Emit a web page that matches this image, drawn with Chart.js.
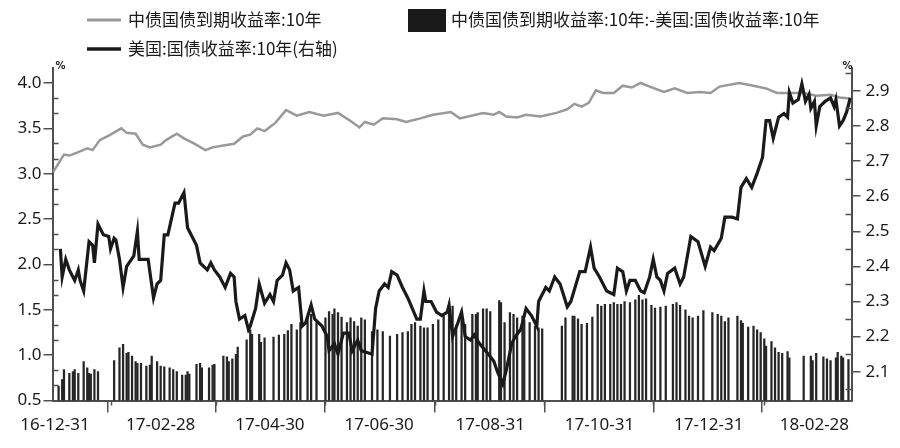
<!DOCTYPE html>
<html><head><meta charset="utf-8">
<script src="https://cdn.jsdelivr.net/npm/chart.js@4/dist/chart.umd.min.js"></script>
<style>html,body{margin:0;padding:0;background:#fff}#wrap{width:900px;height:448px;position:relative}</style>
</head><body><div id="wrap"><canvas id="c" width="900" height="448"></canvas></div>
<script>
// ---------- data ----------
const seriesNames = ['中债国债到期收益率:10年', '中债国债到期收益率:10年:-美国:国债收益率:10年', '美国:国债收益率:10年(右轴)'];

const cnDates = ['16-12-30','17-01-05','17-01-08','17-01-12','17-01-18','17-01-21','17-01-25','17-01-31','17-02-06','17-02-09','17-02-14','17-02-18','17-02-22','17-02-28','17-03-03','17-03-09','17-03-13','17-03-18','17-03-25','17-03-29','17-04-04','17-04-10','17-04-15','17-04-19','17-04-23','17-04-27','17-05-03','17-05-09','17-05-15','17-05-22','17-05-30','17-06-07','17-06-14','17-06-19','17-06-22','17-06-27','17-07-02','17-07-10','17-07-15','17-07-23','17-07-30','17-08-09','17-08-14','17-08-27','17-09-02','17-09-05','17-09-09','17-09-15','17-09-20','17-09-28','17-10-07','17-10-13','17-10-17','17-10-21','17-10-25','17-10-29','17-11-02','17-11-08','17-11-13','17-11-18','17-11-23','17-11-28','17-12-06','17-12-12','17-12-19','17-12-26','18-01-01','18-01-06','18-01-17','18-01-25','18-02-01','18-02-07','18-02-14','18-02-22','18-03-01','18-03-09','18-03-14','18-03-20'];
const cnYield = [3.02,3.21,3.20,3.23,3.28,3.26,3.37,3.43,3.50,3.45,3.44,3.32,3.29,3.32,3.37,3.44,3.39,3.34,3.26,3.29,3.31,3.33,3.41,3.43,3.50,3.47,3.56,3.70,3.64,3.68,3.64,3.67,3.58,3.51,3.57,3.54,3.61,3.60,3.57,3.61,3.65,3.68,3.61,3.67,3.65,3.68,3.63,3.62,3.65,3.63,3.67,3.71,3.77,3.74,3.78,3.92,3.89,3.89,3.97,3.95,4.00,3.96,3.90,3.94,3.89,3.90,3.89,3.96,4.00,3.97,3.94,3.89,3.89,3.89,3.86,3.87,3.84,3.83];

const usDates = ['17-01-03','17-01-04','17-01-06','17-01-08','17-01-09','17-01-11','17-01-13','17-01-14','17-01-16','17-01-19','17-01-21','17-01-22','17-01-24','17-01-27','17-01-30','17-01-31','17-02-02','17-02-03','17-02-05','17-02-07','17-02-09','17-02-13','17-02-15','17-02-16','17-02-21','17-02-24','17-02-26','17-02-28','17-03-02','17-03-04','17-03-08','17-03-10','17-03-13','17-03-15','17-03-16','17-03-20','17-03-22','17-03-26','17-03-28','17-03-30','17-04-02','17-04-05','17-04-08','17-04-10','17-04-11','17-04-13','17-04-16','17-04-18','17-04-19','17-04-22','17-04-24','17-04-27','17-04-30','17-05-02','17-05-04','17-05-07','17-05-09','17-05-11','17-05-13','17-05-16','17-05-18','17-05-20','17-05-23','17-05-25','17-05-29','17-06-01','17-06-02','17-06-05','17-06-07','17-06-10','17-06-13','17-06-15','17-06-18','17-06-20','17-06-26','17-06-28','17-06-30','17-07-03','17-07-05','17-07-07','17-07-10','17-07-13','17-07-16','17-07-21','17-07-23','17-07-25','17-07-26','17-07-29','17-08-01','17-08-04','17-08-07','17-08-08','17-08-10','17-08-13','17-08-15','17-08-17','17-08-20','17-08-22','17-08-25','17-08-30','17-09-02','17-09-04','17-09-07','17-09-09','17-09-12','17-09-14','17-09-17','17-09-20','17-09-23','17-09-26','17-09-27','17-10-01','17-10-03','17-10-06','17-10-09','17-10-13','17-10-15','17-10-20','17-10-23','17-10-26','17-10-28','17-10-31','17-11-04','17-11-08','17-11-10','17-11-13','17-11-15','17-11-17','17-11-20','17-11-23','17-11-25','17-11-28','17-11-30','17-12-02','17-12-04','17-12-06','17-12-08','17-12-12','17-12-15','17-12-17','17-12-21','17-12-25','17-12-29','18-01-01','18-01-03','18-01-07','18-01-09','18-01-13','18-01-16','18-01-18','18-01-21','18-01-24','18-01-27','18-01-30','18-02-01','18-02-03','18-02-05','18-02-08','18-02-11','18-02-13','18-02-14','18-02-16','18-02-19','18-02-21','18-02-23','18-02-25','18-02-26','18-02-28','18-03-01','18-03-03','18-03-06','18-03-09','18-03-11','18-03-12','18-03-14','18-03-16','18-03-18','18-03-20'];
const usYield = [2.45,2.37,2.42,2.39,2.38,2.36,2.39,2.36,2.33,2.47,2.46,2.41,2.52,2.49,2.485,2.45,2.48,2.475,2.42,2.34,2.40,2.43,2.50,2.42,2.42,2.31,2.35,2.36,2.49,2.49,2.58,2.58,2.61,2.51,2.50,2.46,2.41,2.39,2.41,2.39,2.37,2.34,2.38,2.37,2.30,2.25,2.26,2.22,2.23,2.28,2.35,2.295,2.32,2.30,2.36,2.375,2.41,2.39,2.33,2.34,2.23,2.24,2.29,2.25,2.23,2.20,2.16,2.18,2.15,2.21,2.21,2.16,2.19,2.16,2.15,2.28,2.33,2.35,2.34,2.385,2.375,2.34,2.31,2.25,2.25,2.33,2.30,2.30,2.27,2.26,2.27,2.29,2.20,2.24,2.27,2.20,2.19,2.205,2.18,2.15,2.13,2.10,2.065,2.105,2.18,2.20,2.22,2.28,2.26,2.23,2.30,2.34,2.33,2.37,2.35,2.285,2.30,2.385,2.385,2.455,2.395,2.37,2.33,2.32,2.395,2.385,2.33,2.36,2.36,2.33,2.325,2.37,2.42,2.37,2.36,2.33,2.38,2.395,2.35,2.37,2.485,2.47,2.40,2.455,2.445,2.48,2.54,2.54,2.535,2.625,2.65,2.625,2.665,2.71,2.815,2.815,2.765,2.825,2.835,2.825,2.895,2.865,2.875,2.92,2.87,2.89,2.85,2.87,2.80,2.855,2.87,2.88,2.855,2.875,2.80,2.815,2.84,2.88];

const spreadDates = ['17-01-02','17-01-04','17-01-05','17-01-08','17-01-10','17-01-11','17-01-13','17-01-16','17-01-18','17-01-19','17-01-20','17-01-22','17-01-24','17-02-02','17-02-05','17-02-07','17-02-09','17-02-10','17-02-12','17-02-14','17-02-15','17-02-17','17-02-20','17-02-22','17-02-23','17-02-26','17-02-28','17-03-02','17-03-05','17-03-07','17-03-09','17-03-12','17-03-14','17-03-15','17-03-16','17-03-20','17-03-22','17-03-23','17-03-27','17-03-29','17-03-30','17-04-04','17-04-06','17-04-07','17-04-09','17-04-11','17-04-12','17-04-17','17-04-19','17-04-20','17-04-24','17-04-25','17-04-27','17-05-02','17-05-05','17-05-08','17-05-10','17-05-12','17-05-15','17-05-17','17-05-21','17-05-23','17-05-26','17-05-31','17-06-02','17-06-04','17-06-05','17-06-07','17-06-09','17-06-12','17-06-14','17-06-16','17-06-18','17-06-20','17-06-22','17-06-26','17-06-29','17-07-02','17-07-06','17-07-10','17-07-13','17-07-16','17-07-18','17-07-20','17-07-23','17-07-25','17-07-27','17-07-30','17-08-02','17-08-05','17-08-08','17-08-10','17-08-12','17-08-15','17-08-17','17-08-21','17-08-23','17-08-24','17-08-27','17-08-29','17-08-31','17-09-05','17-09-06','17-09-08','17-09-11','17-09-13','17-09-15','17-09-18','17-09-19','17-09-22','17-09-25','17-09-27','17-09-29','17-10-10','17-10-12','17-10-16','17-10-17','17-10-19','17-10-21','17-10-24','17-10-27','17-10-30','17-11-01','17-11-03','17-11-06','17-11-08','17-11-10','17-11-12','17-11-14','17-11-17','17-11-20','17-11-22','17-11-24','17-11-26','17-11-29','17-12-01','17-12-04','17-12-07','17-12-11','17-12-13','17-12-15','17-12-18','17-12-20','17-12-22','17-12-25','17-12-28','18-01-02','18-01-05','18-01-07','18-01-09','18-01-11','18-01-16','18-01-18','18-01-19','18-01-22','18-01-25','18-01-27','18-01-29','18-01-31','18-02-01','18-02-04','18-02-06','18-02-08','18-02-10','18-02-13','18-02-14','18-02-22','18-02-26','18-02-27','18-03-01','18-03-05','18-03-07','18-03-09','18-03-12','18-03-13','18-03-15','18-03-16','18-03-19'];
const spreadValues = [0.66,0.73,0.84,0.80,0.82,0.84,0.80,0.93,0.86,0.80,0.79,0.84,0.82,0.94,1.08,1.12,1.02,1.03,0.99,0.93,0.91,0.91,0.88,0.89,0.99,0.93,0.88,0.87,0.86,0.84,0.82,0.78,0.78,0.82,0.79,0.90,0.91,0.86,0.86,0.89,0.90,0.99,0.98,0.93,0.96,1.01,1.09,1.17,1.28,1.23,1.23,1.14,1.19,1.20,1.22,1.23,1.27,1.34,1.28,1.36,1.43,1.45,1.36,1.41,1.48,1.45,1.51,1.47,1.42,1.36,1.41,1.37,1.32,1.41,1.39,1.26,1.28,1.26,1.21,1.23,1.25,1.26,1.34,1.36,1.32,1.30,1.30,1.34,1.39,1.43,1.47,1.54,1.32,1.48,1.34,1.45,1.45,1.47,1.51,1.51,1.48,1.60,1.58,1.36,1.47,1.45,1.41,1.43,1.39,1.36,1.32,1.30,1.29,1.32,1.41,1.43,1.43,1.40,1.34,1.35,1.42,1.56,1.54,1.56,1.56,1.58,1.56,1.56,1.59,1.58,1.61,1.66,1.61,1.62,1.55,1.52,1.53,1.54,1.56,1.58,1.55,1.50,1.43,1.41,1.43,1.49,1.47,1.45,1.43,1.37,1.41,1.43,1.38,1.35,1.31,1.32,1.28,1.25,1.18,1.10,1.15,1.08,1.03,1.02,1.04,0.97,0.99,0.99,0.94,1.02,0.98,0.96,0.94,0.97,1.03,0.99,0.97,0.95];

const xTickLabels = ['16-12-31','17-02-28','17-04-30','17-06-30','17-08-31','17-10-31','17-12-31','18-02-28'];
const xMinorTicks = ['17-01-31','17-03-31','17-05-31','17-07-31','17-09-30','17-11-30','18-01-31'];
const leftTicks = [0.5,1.0,1.5,2.0,2.5,3.0,3.5,4.0];
const rightTicks = [2.1,2.2,2.3,2.4,2.5,2.6,2.7,2.8,2.9];
const rightMinorTicks = [2.05,2.15,2.25,2.35,2.45,2.55,2.65,2.75,2.85,2.95];

// ---------- helpers ----------
const BASE = Date.UTC(2016, 11, 31);
function toDay(s){ const p = s.split('-').map(Number); return Math.round((Date.UTC(2000+p[0], p[1]-1, p[2]) - BASE)/86400000); }
const pts = (ds, vs) => ds.map((d,i)=>({x: toDay(d), y: vs[i]}));

const AXIS = '#505050';
const decor = {
  id: 'decor',
  afterDraw(chart){
    const ctx = chart.ctx, a = chart.chartArea;
    const yL = chart.scales.y, yR = chart.scales.y2, xs = chart.scales.x;
    ctx.save();
    ctx.strokeStyle = AXIS; ctx.lineWidth = 1.5;
    ctx.beginPath();
    for (let i=0;i<leftTicks.length-1;i++){
      for (let k=1;k<3;k++){
        const v = leftTicks[i] + k*(leftTicks[i+1]-leftTicks[i])/3;
        const py = Math.round(yL.getPixelForValue(v))+0.5;
        ctx.moveTo(a.left, py); ctx.lineTo(a.left+6, py);
      }
    }
    rightMinorTicks.forEach(v=>{
      const py = Math.round(yR.getPixelForValue(v))+0.5;
      ctx.moveTo(a.right-6, py); ctx.lineTo(a.right, py);
    });
    xMinorTicks.forEach(d=>{
      const px = Math.round(xs.getPixelForValue(toDay(d)))+0.5;
      ctx.moveTo(px, a.bottom); ctx.lineTo(px, a.bottom+5);
    });
    ctx.stroke();
    // unit labels
    ctx.fillStyle = '#222';
    ctx.font = 'bold 10px "DejaVu Sans"';
    ctx.textBaseline = 'middle'; ctx.textAlign = 'left';
    ctx.fillText('%', a.left+3, 66);
    ctx.fillText('%', a.right-9, 66);
    // legend
    ctx.font = '17px "Noto Sans CJK SC"';
    ctx.lineWidth = 3; ctx.strokeStyle = '#999999';
    ctx.beginPath(); ctx.moveTo(87, 20); ctx.lineTo(121, 20); ctx.stroke();
    ctx.fillStyle = '#1a1a1a';
    ctx.fillText(seriesNames[0], 128, 20);
    ctx.fillRect(408, 9, 38, 23);
    ctx.fillText(seriesNames[1], 451, 20);
    ctx.lineWidth = 3.5; ctx.strokeStyle = '#1a1a1a';
    ctx.beginPath(); ctx.moveTo(87, 49); ctx.lineTo(121, 49); ctx.stroke();
    ctx.fillText(seriesNames[2], 128, 49);
    ctx.restore();
  }
};

const tickFont = {family: '"Noto Sans", sans-serif', size: 17};
new Chart(document.getElementById('c'), {
  type: 'bar',
  data: {
    datasets: [
      {type:'line', label: seriesNames[2], data: pts(usDates, usYield), yAxisID:'y2', borderColor:'#1a1a1a', borderWidth:3.2, pointRadius:0, tension:0, order:0},
      {type:'line', label: seriesNames[0], data: pts(cnDates, cnYield), yAxisID:'y', borderColor:'#999999', borderWidth:2.5, pointRadius:0, tension:0, order:1},
      {type:'bar', label: seriesNames[1], data: pts(spreadDates, spreadValues), yAxisID:'y', backgroundColor:'#262626', barThickness:1.6, grouped:false, order:2}
    ]
  },
  options: {
    responsive:false, animation:false, devicePixelRatio:1,
    layout:{padding:{top:68,left:0,right:0,bottom:0}},
    plugins:{legend:{display:false}, tooltip:{enabled:false}},
    scales:{
      x:{type:'linear', position:'bottom', min:-1.4, max:444.7, offset:false,
        afterBuildTicks:s=>{ s.ticks = xTickLabels.map(l=>({value:toDay(l)})); },
        afterFit:s=>{ s.height = 47.5; },
        ticks:{autoSkip:false, maxRotation:0, padding:2, color:'#1a1a1a', font:tickFont,
          callback:(v)=>{ const i = xTickLabels.findIndex(l=>toDay(l)===v); return i>=0 ? xTickLabels[i] : ''; }},
        grid:{drawOnChartArea:false, drawTicks:true, tickLength:12, color:AXIS, lineWidth:1.5},
        border:{display:true, color:AXIS, width:2}
      },
      y:{type:'linear', position:'left', min:0.5, max:4.165,
        afterBuildTicks:s=>{ s.ticks = leftTicks.map(v=>({value:v})); },
        afterFit:s=>{ s.width = 52.5; },
        ticks:{padding:2, color:'#1a1a1a', font:tickFont, callback:v=>Number(v).toFixed(1)},
        grid:{drawOnChartArea:false, drawTicks:true, tickLength:9, color:AXIS, lineWidth:1.5},
        border:{display:true, color:AXIS, width:2}
      },
      y2:{type:'linear', position:'right', min:2.018, max:2.965,
        afterBuildTicks:s=>{ s.ticks = rightTicks.map(v=>({value:v})); },
        afterFit:s=>{ s.width = 48.5; },
        ticks:{padding:5, color:'#1a1a1a', font:tickFont, callback:v=>Number(v).toFixed(1)},
        grid:{drawOnChartArea:false, drawTicks:true, tickLength:9, color:AXIS, lineWidth:1.5},
        border:{display:true, color:AXIS, width:2}
      }
    }
  },
  plugins:[decor]
});
</script>
</body></html>
